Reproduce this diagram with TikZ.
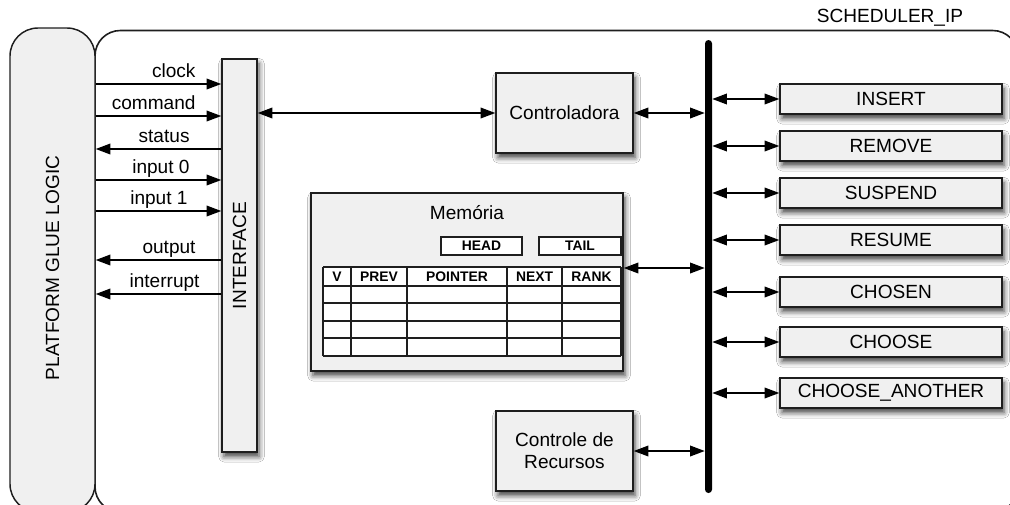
\documentclass[tikz,border=0pt]{standalone}
\usepackage{fontspec}
\setmainfont{Liberation Sans}
\usetikzlibrary{arrows.meta,shadows.blur}

\definecolor{boxgray}{RGB}{240,240,240}
\definecolor{edge}{RGB}{30,30,30}

\tikzset{
  base/.style={font=\fontsize{14.3}{16.5}\selectfont},
  shade3d/.style={blur shadow={shadow xshift=1.5pt,shadow yshift=-3.5pt,
      shadow blur radius=4pt,shadow opacity=75}},
  block/.style={draw=edge,line width=1.1pt,fill=boxgray,inner sep=0pt,
      align=center,base,shade3d},
  bitbox/.style={draw=edge,line width=1.1pt,fill=white,inner sep=0pt,
      font=\fontsize{10.4}{12}\selectfont\bfseries},
  hdr/.style={font=\fontsize{10.4}{12}\selectfont\bfseries,inner sep=0pt},
  arr/.style={line width=1.1pt,-{Triangle[length=11pt,width=8pt]}},
  biarr/.style={line width=1.1pt,
      {Triangle[length=11pt,width=8pt]}-{Triangle[length=11pt,width=8pt]}},
  sig/.style={base,inner sep=0pt,anchor=base east},
}

\begin{document}
\begin{tikzpicture}[x=0.75pt,y=-0.75pt]
\useasboundingbox (0,0) rectangle (1010,504);

% outer IP frame
\draw[draw=edge,line width=1.2pt,fill=white,rounded corners=19pt]
  (95,512) -- (95,30.5) -- (1018,30.5) -- (1018,512) -- cycle;
\node[base] (iptitle) at (890,18) {SCHEDULER\_IP};

% platform glue logic column
\node[draw=edge,line width=1.1pt,fill=boxgray,rounded corners=21pt,
      minimum width=63.75pt,minimum height=363pt,inner sep=0pt]
  (glue) at (52.5,270) {};
\node[base,rotate=90] (gluetxt) at (52.5,268) {PLATFORM GLUE LOGIC};

% interface
\node[block,minimum width=26.25pt,minimum height=294.75pt] (iface) at (239.5,255.5) {};
\node[base,rotate=90] (ifacetxt) at (iface.center) {INTERFACE};

% inner blocks
\node[block,minimum width=102.75pt,minimum height=60pt] (ctrl) at (564.5,113) {Controladora};
\node[block,minimum width=102.75pt,minimum height=60pt] (rec) at (564.5,451) {Controle de\\Recursos};
\node[block,minimum width=234pt,minimum height=133.5pt] (mem) at (467,282) {};
\node[base] (memtitle) at (467,213) {Memória};
\node[bitbox,minimum width=60.75pt,minimum height=13.5pt] (head) at (481.5,246) {HEAD};
\node[bitbox,minimum width=61.5pt,minimum height=13.5pt] (tail) at (580,246) {TAIL};

% queue table
\fill[white] (323,267) rectangle (621,356);
\foreach \yy in {267,286,303,321,338,356}
  \draw[edge,line width=1.1pt] (323,\yy) -- (621,\yy);
\foreach \xx in {323,351,407,507,562,621}
  \draw[edge,line width=1.1pt] (\xx,267) -- (\xx,356);
\node[hdr] (cv) at (337,276.5) {V};
\node[hdr] (cprev) at (379,276.5) {PREV};
\node[hdr] (cptr) at (457,276.5) {POINTER};
\node[hdr] (cnext) at (534.5,276.5) {NEXT};
\node[hdr] (crank) at (591.5,276.5) {RANK};

% bus
\node[fill=black,rounded corners=2.6pt,minimum width=5.25pt,minimum height=339.75pt,
      inner sep=0pt] (bus) at (708.5,266.5) {};

% operation blocks
\foreach \nm/\txt/\yy in {ins/INSERT/99, rem/REMOVE/146, sus/SUSPEND/193,
    res/RESUME/240, chn/CHOSEN/292, cho/CHOOSE/342, cha/CHOOSE\_ANOTHER/393}{
  \node[block,minimum width=166.5pt,minimum height=22.5pt] (\nm) at (891,\yy) {\txt};
  \draw[biarr] (bus.east |- \nm.west) -- (\nm.west);
}

% links to the bus
\draw[biarr] (iface.east |- ctrl.west) -- (ctrl.west);
\draw[biarr] (ctrl.east) -- (bus.west |- ctrl.east);
\coordinate (ymem) at (0,268);
\draw[biarr] (mem.east |- ymem) -- (bus.west |- ymem);
\draw[biarr] (rec.east) -- (bus.west |- rec.east);

% platform signals
\coordinate (yclk) at (0,84);
\coordinate (ycmd) at (0,116);
\coordinate (ysta) at (0,149);
\coordinate (yin0) at (0,180);
\coordinate (yin1) at (0,211);
\coordinate (yout) at (0,260);
\coordinate (yirq) at (0,294);
\draw[arr] (glue.east |- yclk) -- (iface.west |- yclk)
  node[sig,xshift=-18.75pt,yshift=5.25pt] {clock};
\draw[arr] (glue.east |- ycmd) -- (iface.west |- ycmd)
  node[sig,xshift=-18.75pt,yshift=5.25pt] {command};
\draw[arr] (iface.west |- ysta) node[sig,xshift=-23.25pt,yshift=5.25pt] {status}
  -- (glue.east |- ysta);
\draw[arr] (glue.east |- yin0) -- (iface.west |- yin0)
  node[sig,xshift=-23.25pt,yshift=5.25pt] {input 0};
\draw[arr] (glue.east |- yin1) -- (iface.west |- yin1)
  node[sig,xshift=-24.75pt,yshift=5.25pt] {input 1};
\draw[arr] (iface.west |- yout) node[sig,xshift=-18.75pt,yshift=5.25pt] {output}
  -- (glue.east |- yout);
\draw[arr] (iface.west |- yirq) node[sig,xshift=-15.75pt,yshift=5.25pt] {interrupt}
  -- (glue.east |- yirq);
\end{tikzpicture}
\end{document}
